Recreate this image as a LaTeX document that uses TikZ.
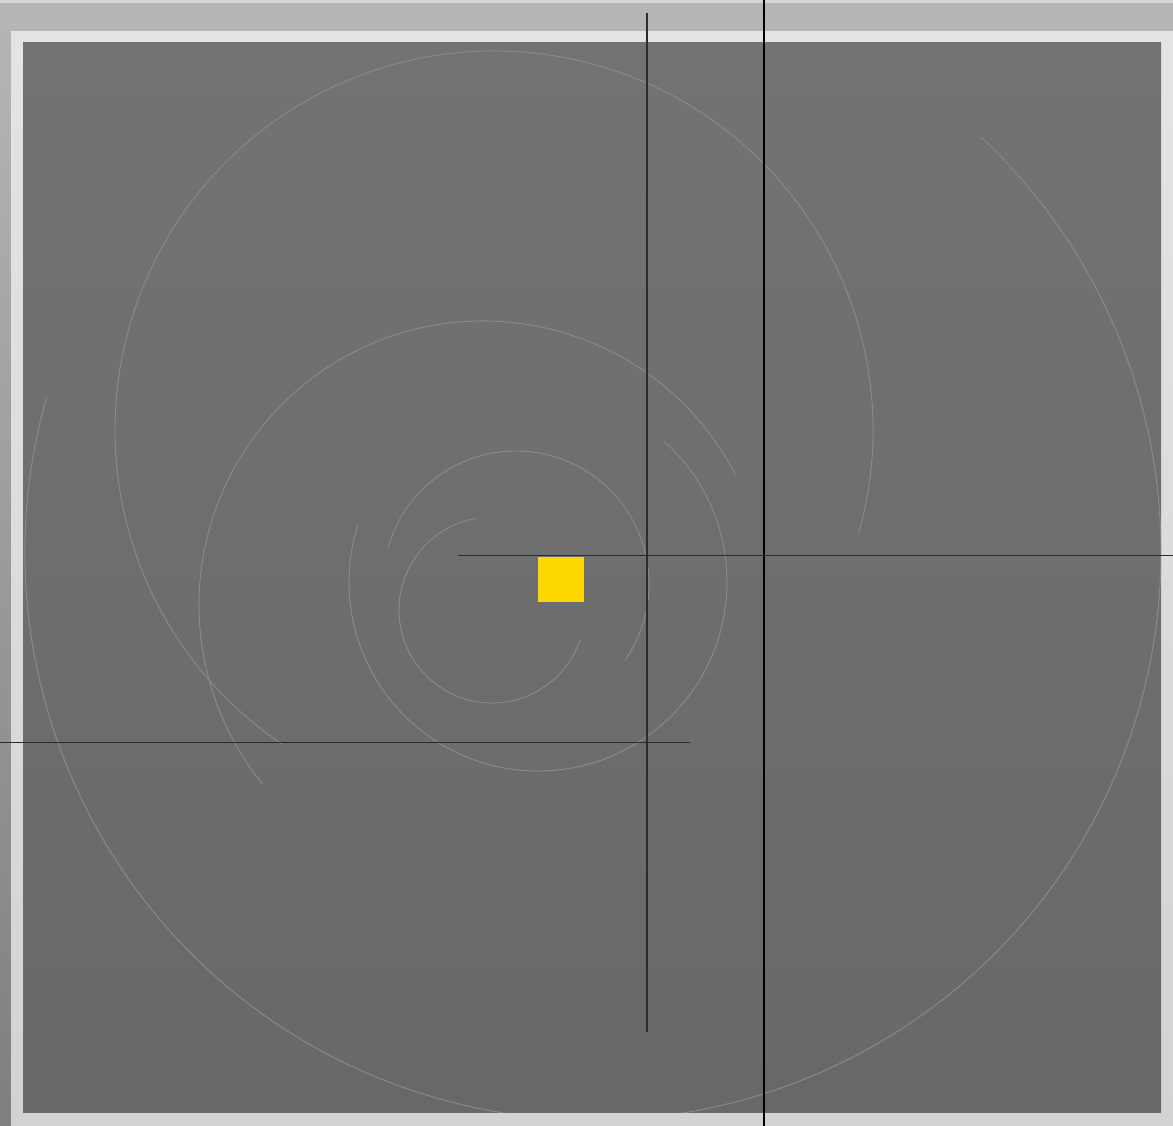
\documentclass[tikz,border=0pt]{standalone}
\usetikzlibrary{calc}
\definecolor{bgtop}{HTML}{B6B6B6}
\definecolor{bgbot}{HTML}{7F7F7F}
\definecolor{topstrip}{HTML}{D6D6D6}
\definecolor{frametop}{HTML}{E4E4E4}
\definecolor{framebot}{HTML}{D3D3D3}
\definecolor{innertop}{HTML}{737373}
\definecolor{innerbot}{HTML}{686868}
\definecolor{arccol}{HTML}{8A8A8A}
\definecolor{guidecol}{HTML}{2C2C2C}
\definecolor{gold}{HTML}{FFD700}
\tikzset{
  swirl/.style={draw=arccol, line width=0.95pt},
  guide/.style={draw=guidecol, line width=1.3pt},
  guidedark/.style={draw=black, line width=1.1pt},
  yellowsq/.style={fill=gold, draw=none, minimum width=46pt, minimum height=45pt, inner sep=0pt}
}
\begin{document}
\begin{tikzpicture}[x=1pt,y=1pt]
\useasboundingbox (0,0) rectangle (1173,-1126);
% background layers
\shade[top color=bgtop, bottom color=bgbot] (0,0) rectangle (1173,-1126);
\fill[topstrip] (0,0) rectangle (1173,-3);
\shade[top color=frametop, bottom color=framebot] (11,-32) rectangle (1173,-1126);
\shade[top color=innertop, bottom color=innerbot] (23,-43) rectangle (1161,-1112);
% swirl arcs
\begin{scope}
\clip (23,-43) rectangle (1161,-1112);
\draw[swirl] ($(593,-552)+(164.2:568)$) arc[start angle=164.2, end angle=406.9, radius=568];
\draw[swirl] ($(494,-430)+(-15.8:379)$) arc[start angle=-15.8, end angle=236, radius=379];
\draw[swirl] ($(483,-605)+(27.3:284)$) arc[start angle=27.3, end angle=219, radius=284];
\draw[swirl] ($(538,-582)+(48.2:189)$) arc[start angle=48.2, end angle=-197.5, radius=189];
\draw[swirl] ($(516,-584)+(164:133)$) arc[start angle=164, end angle=-35, radius=133];
\draw[swirl] ($(492,-610)+(99.8:93)$) arc[start angle=99.8, end angle=341, radius=93];
\end{scope}
% guide lines
\coordinate (v1top) at (647,-13);
\coordinate (v1bot) at (647,-1032);
\coordinate (v2top) at (764,0);
\coordinate (v2bot) at (764,-1126);
\coordinate (h1left) at (458,-555.5);
\coordinate (h1right) at (1173,-555.5);
\coordinate (h2left) at (0,-742.5);
\coordinate (h2right) at (690,-742.5);
\draw[guide] (v1top) -- (v1bot);
\draw[guidedark] (v2top) -- (v2bot);
\draw[guide] (h1left) -- (h1right);
\draw[guide] (h2left) -- (h2right);
% yellow square
\node[yellowsq] (sq) at (561,-579.5) {};
\end{tikzpicture}
\end{document}
